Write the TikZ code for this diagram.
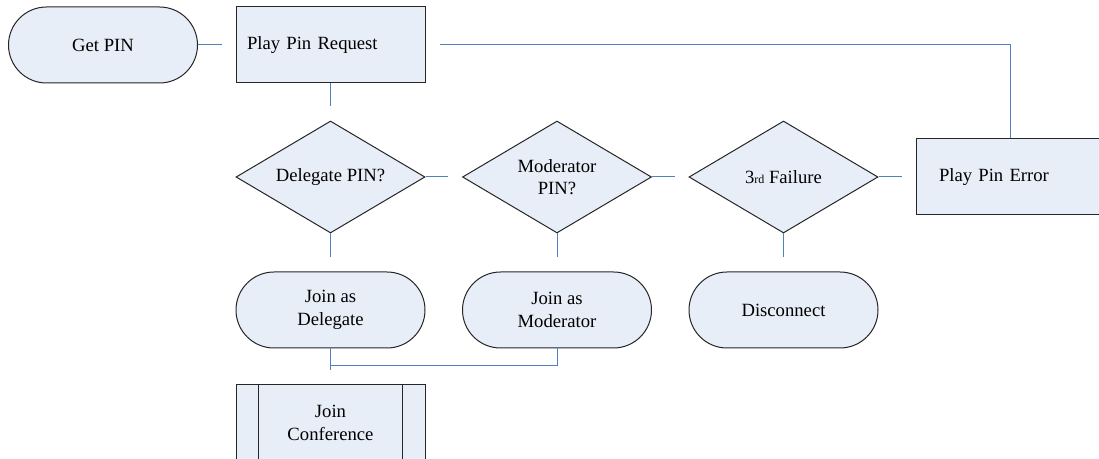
\documentclass[tikz,border=0pt]{standalone}
\usepackage{fontspec}
\setmainfont{Liberation Serif}
\usetikzlibrary{shapes.geometric,shapes.misc}
\definecolor{fcfill}{HTML}{E8EEF7}
\definecolor{fcline}{HTML}{4F81BD}

\begin{document}
\begin{tikzpicture}[x=0.75pt,y=-0.75pt,font=\fontsize{14}{17}\selectfont,
  shapebase/.style={draw=black!85,line width=0.75pt,fill=fcfill,inner sep=0pt},
  termnode/.style={shapebase,rounded rectangle,minimum width=141.75pt,minimum height=57pt,align=center},
  procnode/.style={shapebase,rectangle,minimum width=141.75pt,minimum height=57pt,text width=#1,align=left},
  decnode/.style={shapebase,diamond,aspect=1.69,minimum width=141.75pt,minimum height=84pt,align=center},
  conn/.style={draw=fcline,line width=0.75pt,shorten >=10.5pt}]
\useasboundingbox (0,0) rectangle (1099,459);
\clip (0,0) rectangle (1099,459);
% top row
\node[termnode] (getpin) at (103,45) {Get PIN};
\node[procnode=125.25pt] (req) at (330.5,45) {Play Pin Request};
\node[procnode=107.25pt] (err) at (1010.5,177) {Play Pin Error};
% decisions and their outcomes
\foreach \dname/\tname/\x/\dtext/\ttext in {
  dlg/jdel/330.5/{Delegate PIN?}/{Join as\\Delegate},
  mod/jmod/557/{Moderator\\PIN?}/{Join as\\Moderator},
  fail/disc/783.5/{3{\fontsize{9}{9}\selectfont rd} Failure}/{Disconnect}} {
  \node[decnode] (\dname) at (\x,177) {\dtext};
  \node[termnode] (\tname) at (\x,310) {\ttext};
  \draw[conn] (\dname.south) -- (\tname.north);
}
% predefined process
\node[procnode=109.5pt,align=center] (jconf) at (330.5,423) {Join\\Conference};
\draw[line width=0.75pt,draw=black!85] ([xshift=17.25pt]jconf.north west) -- ([xshift=17.25pt]jconf.south west)
  ([xshift=-17.25pt]jconf.north east) -- ([xshift=-17.25pt]jconf.south east);
\coordinate (merge) at (330.5,366);
% connectors
\draw[conn] (getpin.east) -- (req.west);
\draw[conn] (req.south) -- (dlg.north);
\draw[conn] (dlg.east) -- (mod.west);
\draw[conn] (mod.east) -- (fail.west);
\draw[conn] (fail.east) -- (err.west);
\draw[conn] (err.north) |- (req.east);
\draw[conn] (jdel.south) -- (jconf.north);
\draw[conn,shorten >=0pt] (jmod.south) |- (merge);
\end{tikzpicture}
\end{document}
